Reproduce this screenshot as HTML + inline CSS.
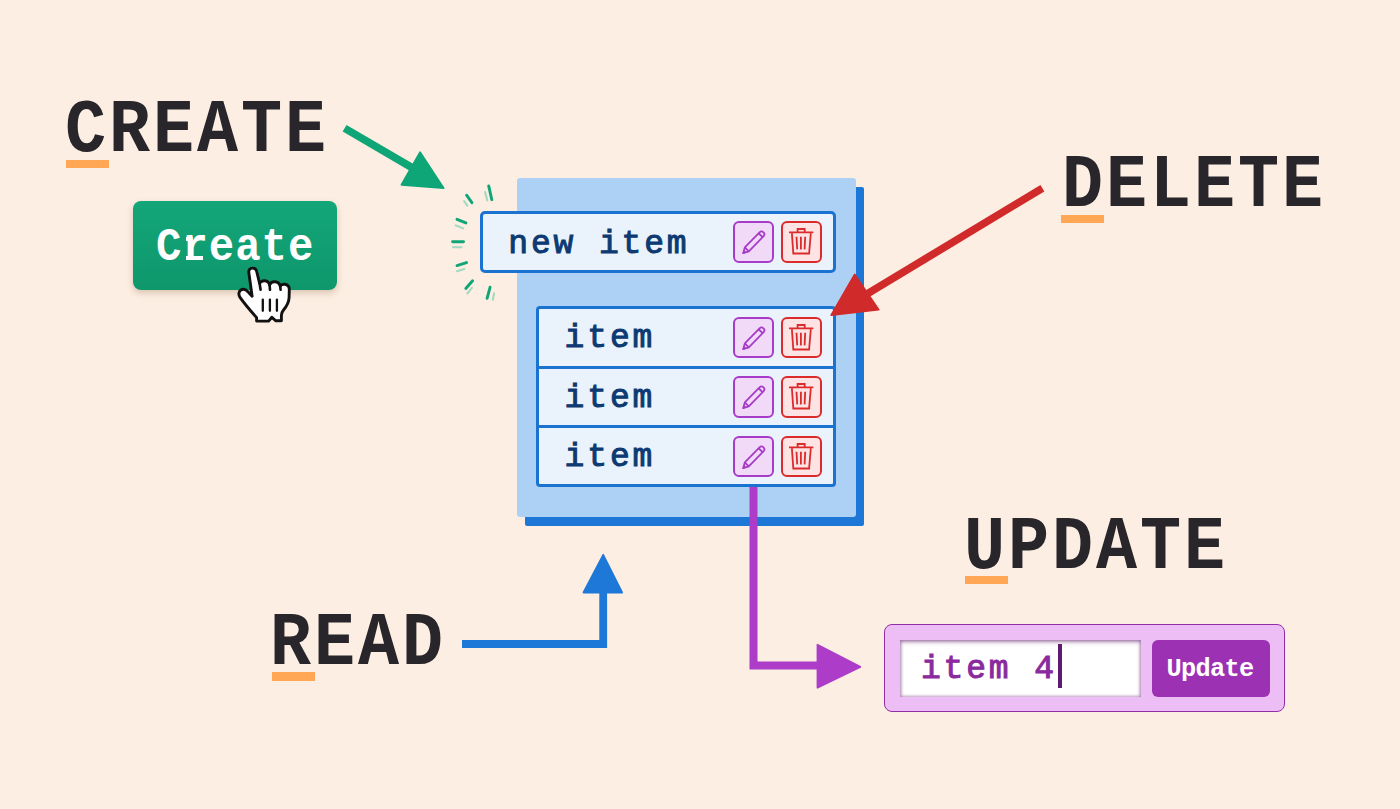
<!DOCTYPE html>
<html><head><meta charset="utf-8"><style>
html,body{margin:0;padding:0}
body{width:1400px;height:809px;background:#FCEEE2;position:relative;overflow:hidden;font-family:"Liberation Mono",monospace}
.hd{position:absolute;white-space:pre;font-weight:bold;color:#29262B}
.t{position:absolute;white-space:pre;font-weight:bold}
.rg{font-weight:normal!important;-webkit-text-stroke:1px currentColor}
.ul{position:absolute;background:#FFA754}
.ib{position:absolute;width:41.3px;height:41.5px;box-sizing:border-box;border-radius:6px;border:2px solid}
.ed{border-color:#A63CC7;background:#F1DAF8}
.dl{border-color:#DB2B2B;background:#FDE3E4}
.ib svg{left:-2px!important;top:-2px!important}
svg{overflow:visible}
</style></head><body>

<div class="hd" style="left:65.2px;top:92.8px;font-size:76px;line-height:76px;letter-spacing:3.29px;transform:scaleX(0.9);transform-origin:0 0">CREATE</div>
<div class="ul" style="left:66px;top:159.8px;width:42.5px;height:8.2px"></div>
<div class="hd" style="left:1061.5px;top:148.2px;font-size:76px;line-height:76px;letter-spacing:3.29px;transform:scaleX(0.9);transform-origin:0 0">DELETE</div>
<div class="ul" style="left:1061.4px;top:215.2px;width:42.5px;height:8.2px"></div>
<div class="hd" style="left:963.8px;top:510.0px;font-size:76px;line-height:76px;letter-spacing:3.29px;transform:scaleX(0.9);transform-origin:0 0">UPDATE</div>
<div class="ul" style="left:965px;top:576.2px;width:42.5px;height:8.2px"></div>
<div class="hd" style="left:270.4px;top:605.8px;font-size:76px;line-height:76px;letter-spacing:3.29px;transform:scaleX(0.9);transform-origin:0 0">READ</div>
<div class="ul" style="left:272.2px;top:672.4px;width:42.5px;height:8.2px"></div>
<div style="position:absolute;left:133px;top:201px;width:204px;height:89px;border-radius:8px;background:linear-gradient(#13A679,#0E976B);box-shadow:0 3px 6px rgba(120,70,40,0.25)"></div>
<div class="t " style="left:156.4px;top:223.9px;font-size:47px;line-height:47px;letter-spacing:1.13px;color:#FFFFFF;transform:scaleX(0.9);transform-origin:0 0">Create</div>
<div style="position:absolute;left:185.8px;top:255.6px;width:16.8px;height:4.4px;background:#fff"></div><div style="position:absolute;left:185.6px;top:237.3px;width:5px;height:4px;background:#fff"></div>
<div style="position:absolute;left:524.8px;top:186.6px;width:339.4px;height:339px;background:#1D77D7;border-radius:2px"></div>
<div style="position:absolute;left:516.6px;top:178.4px;width:339.3px;height:338.7px;background:#ADD1F4;border-radius:3px"></div>
<div style="position:absolute;left:480px;top:211.3px;width:356px;height:61.5px;box-sizing:border-box;border:3px solid #1B73D1;border-radius:5px;background:#EAF3FB"></div>
<div class="t rg" style="left:508.3px;top:227.5px;font-size:33px;line-height:33px;letter-spacing:2.85px;color:#0D3A72;transform:scaleX(1.0);transform-origin:0 0">new item</div>
<div class="ib ed" style="left:732.9px;top:221.2px"><svg width="41" height="42" viewBox="0 0 41 42" style="position:absolute;left:0;top:0">
<path d="M10.15 32.2 L11.82 26.42 L26.52 11.32 A2.8 2.8 0 0 1 30.48 15.28 L15.78 30.38 Z M11.82 26.42 L15.78 30.38 M25.6 12.24 L29.56 16.2" fill="none" stroke="#A63CC7" stroke-width="1.8" stroke-linejoin="round"/>
<path d="M10.15 32.2 L10.9 29.4 L13 31.4 Z" fill="#A63CC7" stroke="#A63CC7" stroke-width="0.8" stroke-linejoin="round"/>
</svg></div><div class="ib dl" style="left:781px;top:221.2px"><svg width="41" height="42" viewBox="0 0 41 42" style="position:absolute;left:0;top:0">
<path d="M8 11.3 H32.3 M16.6 11 V8 H23.7 V11 M10.9 12.4 L12.3 32.5 H28.1 L29.8 12.4 M15.5 15.7 L16.2 28.4 M19.9 15.7 V28.4 M24.2 15.7 L23.6 28.4" fill="none" stroke="#DB2B2B" stroke-width="1.8" stroke-linejoin="miter"/>
</svg></div>
<div style="position:absolute;left:536.3px;top:306.3px;width:299.7px;height:181.2px;box-sizing:border-box;border:3px solid #1B73D1;border-radius:4px;background:#EAF3FB"></div>
<div style="position:absolute;left:536.3px;top:365.5px;width:299.7px;height:3px;background:#1B73D1"></div>
<div style="position:absolute;left:536.3px;top:425px;width:299.7px;height:3px;background:#1B73D1"></div>
<div class="t rg" style="left:564.6px;top:321.7px;font-size:33px;line-height:33px;letter-spacing:2.85px;color:#0D3A72;transform:scaleX(1.0);transform-origin:0 0">item</div>
<div class="ib ed" style="left:732.9px;top:316.7px"><svg width="41" height="42" viewBox="0 0 41 42" style="position:absolute;left:0;top:0">
<path d="M10.15 32.2 L11.82 26.42 L26.52 11.32 A2.8 2.8 0 0 1 30.48 15.28 L15.78 30.38 Z M11.82 26.42 L15.78 30.38 M25.6 12.24 L29.56 16.2" fill="none" stroke="#A63CC7" stroke-width="1.8" stroke-linejoin="round"/>
<path d="M10.15 32.2 L10.9 29.4 L13 31.4 Z" fill="#A63CC7" stroke="#A63CC7" stroke-width="0.8" stroke-linejoin="round"/>
</svg></div><div class="ib dl" style="left:781px;top:316.7px"><svg width="41" height="42" viewBox="0 0 41 42" style="position:absolute;left:0;top:0">
<path d="M8 11.3 H32.3 M16.6 11 V8 H23.7 V11 M10.9 12.4 L12.3 32.5 H28.1 L29.8 12.4 M15.5 15.7 L16.2 28.4 M19.9 15.7 V28.4 M24.2 15.7 L23.6 28.4" fill="none" stroke="#DB2B2B" stroke-width="1.8" stroke-linejoin="miter"/>
</svg></div>
<div class="t rg" style="left:564.6px;top:381.7px;font-size:33px;line-height:33px;letter-spacing:2.85px;color:#0D3A72;transform:scaleX(1.0);transform-origin:0 0">item</div>
<div class="ib ed" style="left:732.9px;top:376.2px"><svg width="41" height="42" viewBox="0 0 41 42" style="position:absolute;left:0;top:0">
<path d="M10.15 32.2 L11.82 26.42 L26.52 11.32 A2.8 2.8 0 0 1 30.48 15.28 L15.78 30.38 Z M11.82 26.42 L15.78 30.38 M25.6 12.24 L29.56 16.2" fill="none" stroke="#A63CC7" stroke-width="1.8" stroke-linejoin="round"/>
<path d="M10.15 32.2 L10.9 29.4 L13 31.4 Z" fill="#A63CC7" stroke="#A63CC7" stroke-width="0.8" stroke-linejoin="round"/>
</svg></div><div class="ib dl" style="left:781px;top:376.2px"><svg width="41" height="42" viewBox="0 0 41 42" style="position:absolute;left:0;top:0">
<path d="M8 11.3 H32.3 M16.6 11 V8 H23.7 V11 M10.9 12.4 L12.3 32.5 H28.1 L29.8 12.4 M15.5 15.7 L16.2 28.4 M19.9 15.7 V28.4 M24.2 15.7 L23.6 28.4" fill="none" stroke="#DB2B2B" stroke-width="1.8" stroke-linejoin="miter"/>
</svg></div>
<div class="t rg" style="left:564.6px;top:441.2px;font-size:33px;line-height:33px;letter-spacing:2.85px;color:#0D3A72;transform:scaleX(1.0);transform-origin:0 0">item</div>
<div class="ib ed" style="left:732.9px;top:435.6px"><svg width="41" height="42" viewBox="0 0 41 42" style="position:absolute;left:0;top:0">
<path d="M10.15 32.2 L11.82 26.42 L26.52 11.32 A2.8 2.8 0 0 1 30.48 15.28 L15.78 30.38 Z M11.82 26.42 L15.78 30.38 M25.6 12.24 L29.56 16.2" fill="none" stroke="#A63CC7" stroke-width="1.8" stroke-linejoin="round"/>
<path d="M10.15 32.2 L10.9 29.4 L13 31.4 Z" fill="#A63CC7" stroke="#A63CC7" stroke-width="0.8" stroke-linejoin="round"/>
</svg></div><div class="ib dl" style="left:781px;top:435.6px"><svg width="41" height="42" viewBox="0 0 41 42" style="position:absolute;left:0;top:0">
<path d="M8 11.3 H32.3 M16.6 11 V8 H23.7 V11 M10.9 12.4 L12.3 32.5 H28.1 L29.8 12.4 M15.5 15.7 L16.2 28.4 M19.9 15.7 V28.4 M24.2 15.7 L23.6 28.4" fill="none" stroke="#DB2B2B" stroke-width="1.8" stroke-linejoin="miter"/>
</svg></div>
<div style="position:absolute;left:884px;top:624px;width:401.4px;height:87.6px;box-sizing:border-box;border:1.6px solid #922DA8;border-radius:8px;background:#EDBEF6"></div>
<div style="position:absolute;left:899.6px;top:639.6px;width:241.8px;height:57px;background:#FFFFFF;box-shadow:inset 0 2px 4px rgba(100,30,110,0.45), inset 0 0 3px 1px rgba(100,30,110,0.38)"></div>
<div class="t rg" style="left:920.9px;top:653.0px;font-size:33px;line-height:33px;letter-spacing:2.85px;color:#8B2A9E;transform:scaleX(1.0);transform-origin:0 0">item 4</div>
<div style="position:absolute;left:1057.5px;top:643.5px;width:4px;height:44.5px;background:#5F1B6F"></div>
<div style="position:absolute;left:1151.6px;top:639.6px;width:118.2px;height:57px;border-radius:6px;background:#9C31B3"></div>
<div class="t " style="left:1166.6px;top:656.9px;font-size:25.3px;line-height:25.3px;letter-spacing:-0.7px;color:#FFFFFF;transform:scaleX(1.0);transform-origin:0 0">Update</div>
<svg width="1400" height="809" style="position:absolute;left:0;top:0">
<g stroke-linecap="butt">
 <line x1="344.6" y1="128.3" x2="415" y2="169.4" stroke="#0EA577" stroke-width="7.6"/>
 <path d="M443.7 188.2 L420.1 152.2 L401.5 184.8 Z" fill="#0EA577" stroke="#0EA577" stroke-width="1.8" stroke-linejoin="round"/>
 <line x1="1042.4" y1="188.2" x2="862" y2="297" stroke="#D12A2B" stroke-width="7.6"/>
 <path d="M831.2 315.2 L854.7 274.5 L878.7 309.7 Z" fill="#D12A2B" stroke="#D12A2B" stroke-width="1.8" stroke-linejoin="round"/>
 <path d="M462 644 H603.2 V590" fill="none" stroke="#1E78D7" stroke-width="7.8"/>
 <path d="M603.2 554.8 L583.5 592.5 L622.1 592.5 Z" fill="#1E78D7" stroke="#1E78D7" stroke-width="1.8" stroke-linejoin="round"/>
 <path d="M753.5 487 V665.5 H820" fill="none" stroke="#AD3CC8" stroke-width="8"/>
 <path d="M860.3 666.9 L817.5 644.7 L817.5 687.7 Z" fill="#AD3CC8" stroke="#AD3CC8" stroke-width="1.8" stroke-linejoin="round"/>
</g>
<g stroke="#0EA577" stroke-width="2.9" stroke-linecap="round">
 <line x1="488.7" y1="185.9" x2="491.8" y2="199.7"/>
 <line x1="466.6" y1="195.2" x2="471.9" y2="202.7"/>
 <line x1="457.0" y1="219.3" x2="465.9" y2="222.9"/>
 <line x1="452.6" y1="241.8" x2="463.5" y2="241.8"/>
 <line x1="457.0" y1="265.6" x2="466.5" y2="262.6"/>
 <line x1="465.8" y1="288.5" x2="472.6" y2="280.8"/>
 <line x1="487.1" y1="298.3" x2="490.1" y2="287.2"/>
</g>
<g stroke="#A3D9C0" stroke-width="2.1" stroke-linecap="round">
 <line x1="485.1" y1="192.1" x2="487.3" y2="200.5"/>
 <line x1="464.1" y1="201.0" x2="467.3" y2="205.7"/>
 <line x1="455.8" y1="225.4" x2="463.1" y2="228.4"/>
 <line x1="452.9" y1="247.3" x2="461.4" y2="247.3"/>
 <line x1="457.0" y1="271.2" x2="464.3" y2="268.9"/>
 <line x1="467.4" y1="293.5" x2="471.9" y2="287.9"/>
 <line x1="492.8" y1="299.8" x2="494.1" y2="293.2"/>
</g>
<g transform="translate(235,264)">
 <path d="M17.1 4.1 C19.8 3.9 21.3 5.6 21.7 7.5 L24.6 19.5 C25.5 17.3 27.8 16.6 29.8 16.7 C32.3 16.9 34 18.3 34.6 21 C35.6 18.5 37.8 17.6 40 17.8 C42.6 18 44.6 19.6 45.2 22.3 C46.2 20.5 48.2 20 50 20.3 C52.8 20.8 54.3 22.5 54.3 25.5 L54.1 33.5 C53.9 38.5 51.5 42.5 48.5 46 C47 47.8 46.4 49.5 46.4 51.5 L46.4 56.8 L40.6 56.8 L36.9 53.2 L33.6 57.1 L21.6 57.1 L21.6 53.6 C18 49.5 9 39 5 33.3 C3.3 31 3.6 27.5 5.8 26 C8.3 24.4 11 25.5 13.2 28 L17.1 32.3 L13.8 8.5 C13.5 6 15 4.2 17.1 4.1 Z" fill="#FFFFFF" stroke="#111" stroke-width="2.9" stroke-linejoin="round"/>
 <path d="M24.6 19.5 L25.6 25.8 M34.6 21 L35 25.8 M45.2 22.3 L45.6 25.8" stroke="#111" stroke-width="2.6" stroke-linecap="round"/>
 <path d="M27.8 35.6 V46.8 M34.9 35.6 V46.8 M41.9 35.6 V46.8" stroke="#111" stroke-width="2.3" stroke-linecap="round"/>
</g>
</svg>
</body></html>
